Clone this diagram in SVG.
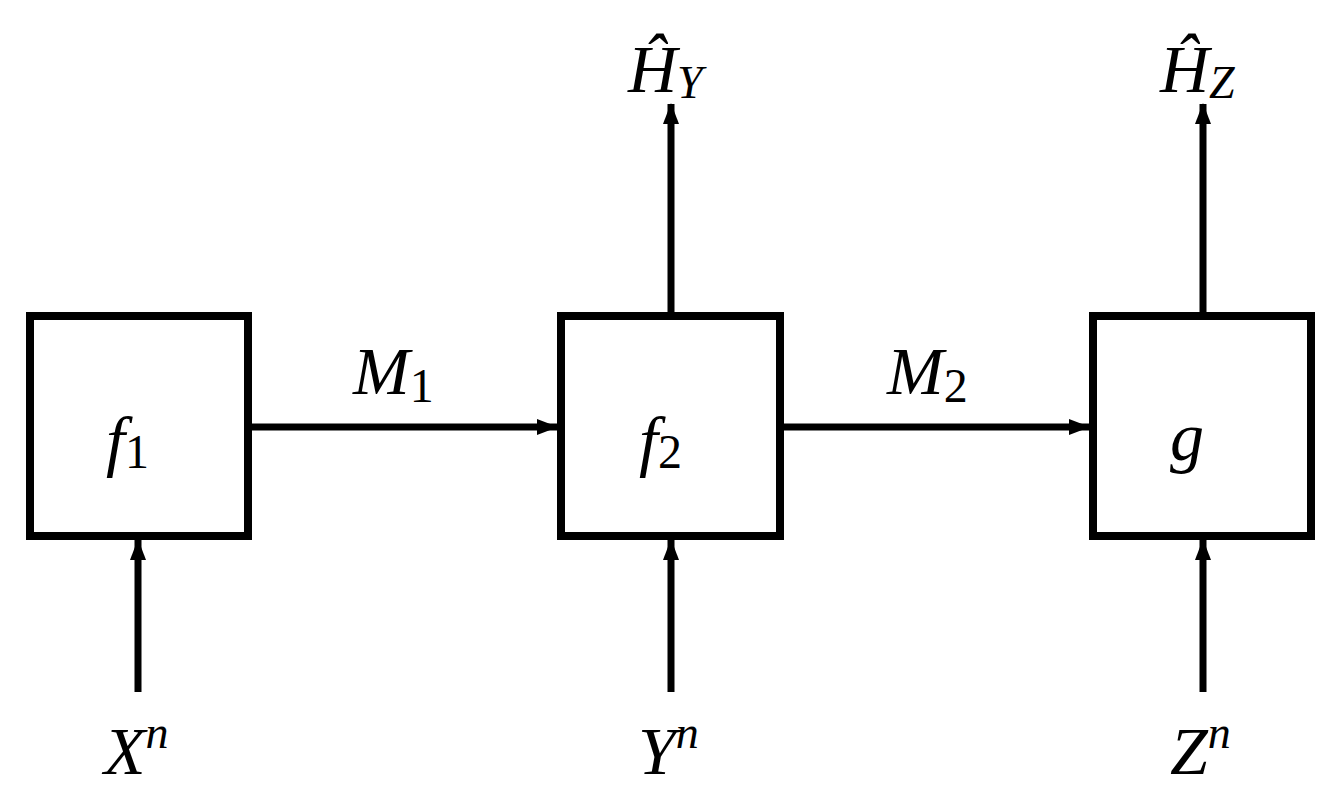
<svg xmlns="http://www.w3.org/2000/svg" width="1342" height="793" viewBox="0 0 1342 793">
<style>
.box{fill:#fff;stroke:#000;stroke-width:8}
.ln{stroke:#000;stroke-width:7;fill:none}
.t{font-family:"Liberation Serif",serif;font-style:italic;font-size:68px;fill:#000}
.s{font-size:48px;font-style:normal}
.si{font-size:46px;font-style:italic}
</style>
<defs><marker id="a" markerWidth="22" markerHeight="20" refX="20" refY="10" orient="auto" markerUnits="userSpaceOnUse"><path d="M0,2 L21,10 L0,18 Z" fill="#000"/></marker></defs>
<rect width="1342" height="793" fill="#fff"/>
<g id="connectors">
<line class="ln" x1="248" y1="427" x2="557" y2="427" marker-end="url(#a)"/>
<line class="ln" x1="780" y1="427" x2="1089" y2="427" marker-end="url(#a)"/>
<line class="ln" x1="671" y1="312" x2="671" y2="104" marker-end="url(#a)"/>
<line class="ln" x1="1203" y1="312" x2="1203" y2="104" marker-end="url(#a)"/>
<line class="ln" x1="138" y1="692" x2="138" y2="540" marker-end="url(#a)"/>
<line class="ln" x1="671" y1="692" x2="671" y2="540" marker-end="url(#a)"/>
<line class="ln" x1="1203" y1="692" x2="1203" y2="540" marker-end="url(#a)"/>
</g>
<g id="f1"><rect class="box" x="30" y="316" width="218" height="220"/><text class="t" x="106" y="464">f<tspan class="s" dy="4">1</tspan></text></g>
<g id="f2"><rect class="box" x="561" y="316" width="219" height="220"/><text class="t" x="639" y="464">f<tspan class="s" dy="4">2</tspan></text></g>
<g id="g"><rect class="box" x="1093" y="316" width="218" height="220"/><text class="t" x="1170" y="460">g</text></g>
<text class="t" x="353" y="394">M<tspan class="s" dy="8">1</tspan></text>
<text class="t" x="887" y="394">M<tspan class="s" dy="8">2</tspan></text>
<text class="t" x="628" y="92">Ĥ<tspan class="si" dy="6">Y</tspan></text>
<text class="t" x="1160" y="92">Ĥ<tspan class="si" dy="6">Z</tspan></text>
<text class="t" x="104" y="774">X<tspan class="si" dy="-26">n</tspan></text>
<text class="t" x="638" y="774">Y<tspan class="si" dy="-26">n</tspan></text>
<text class="t" x="1170" y="774">Z<tspan class="si" dy="-26">n</tspan></text>
</svg>
